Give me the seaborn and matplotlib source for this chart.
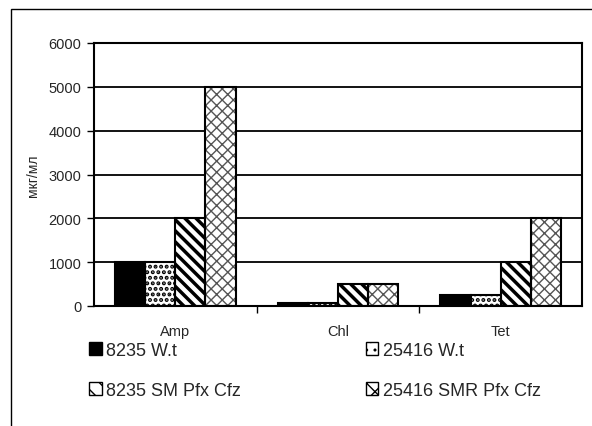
import matplotlib
matplotlib.use("Agg")
import matplotlib.pyplot as plt
from matplotlib.patches import Rectangle, Patch
import seaborn as sns
import pandas as pd

# data
drugs = ["Amp", "Chl", "Tet"]
strains = ["8235 W.t", "25416 W.t", "8235 SM Pfx Cfz", "25416 SMR Pfx Cfz"]
amp = [1000, 1000, 2000, 5000]
chl = [60, 60, 500, 500]
tet = [250, 250, 1000, 2000]
yticks = [0, 1000, 2000, 3000, 4000, 5000, 6000]

rows = []
for drug, vals in zip(drugs, [amp, chl, tet]):
    for s, v in zip(strains, vals):
        rows.append({"drug": drug, "strain": s, "value": v})
df = pd.DataFrame(rows)

sns.set_style("white")
plt.rcParams['font.family'] = ['Liberation Sans', 'DejaVu Sans']
plt.rcParams['hatch.linewidth'] = 1.0

fig = plt.figure(figsize=(5.92, 4.27), dpi=100)
ax = fig.add_axes([94 / 592, 120 / 427, 488 / 592, 263 / 427])

sns.barplot(data=df, x="drug", y="value", hue="strain", order=drugs,
            hue_order=strains, ax=ax, width=0.74, legend=False,
            palette=["white"] * 4, saturation=1)

faces = ["black", "white", "white", "white"]
hatches = [None, "...", "\\\\\\", "xxx"]
hatch_cols = ["black", "black", "black", "#555555"]
hatch_lw = [1.0, 2.0, 2.5, 1.0]
for cont, fc, h, hc, hl in zip(ax.containers, faces, hatches, hatch_cols, hatch_lw):
    for bar in cont:
        bar.set_facecolor(fc)
        bar.set_edgecolor(hc)
        bar.set_linewidth(0)
        if h:
            bar.set_hatch(h)
        if hasattr(bar, "set_hatch_linewidth"):
            bar.set_hatch_linewidth(hl)
        # black outline on top
        ax.add_patch(Rectangle(bar.get_xy(), bar.get_width(), bar.get_height(),
                               fill=False, edgecolor="black", linewidth=1.5, zorder=3))

ax.set_ylim(0, 6000)
ax.set_xlim(-0.5, 2.5)
ax.set_yticks(yticks)
ax.set_yticklabels([str(t) for t in yticks], fontsize=10.5)
ax.set_xticks([0, 1, 2])
ax.set_xticklabels(drugs, fontsize=10.5)
ax.tick_params(axis="x", length=0, pad=13)
ax.tick_params(axis="y", length=5, width=1, color="black", direction="out", left=True, pad=4)
ax.set_xticks([0.5, 1.5], minor=True)
ax.tick_params(axis="x", which="minor", length=5, width=1, color="black", direction="out", bottom=True)
ax.set_xlabel("")
ax.set_ylabel("мкг/мл", fontsize=10, labelpad=6)
ax.yaxis.grid(True, color="black", linewidth=1.3)
ax.set_axisbelow(True)
for sp in ax.spines.values():
    sp.set_visible(True)
    sp.set_color("black")
    sp.set_linewidth(1.5)

handles = [
    Patch(facecolor="black", edgecolor="black"),
    Patch(facecolor="white", edgecolor="black", hatch="\\\\"),
    Patch(facecolor="white", edgecolor="black", hatch=".."),
    Patch(facecolor="white", edgecolor="black", hatch="xx"),
]
labels = [strains[0], strains[2], strains[1], strains[3]]
fig.legend(handles, labels, loc="upper left", bbox_to_anchor=(89 / 592, 1 - 343 / 427),
           ncol=2, frameon=False, fontsize=13, handlelength=0.7, handleheight=0.7,
           handletextpad=0.25, columnspacing=6.9, labelspacing=1.25, borderaxespad=0,
           borderpad=0)

# outer chart frame
fig.patches.append(Rectangle((11 / 592, -0.02), 1.1, 1 - 10 / 427 + 0.02,
                             transform=fig.transFigure, fill=False,
                             edgecolor="black", linewidth=1.0))

fig.savefig("out.png", dpi=100)
